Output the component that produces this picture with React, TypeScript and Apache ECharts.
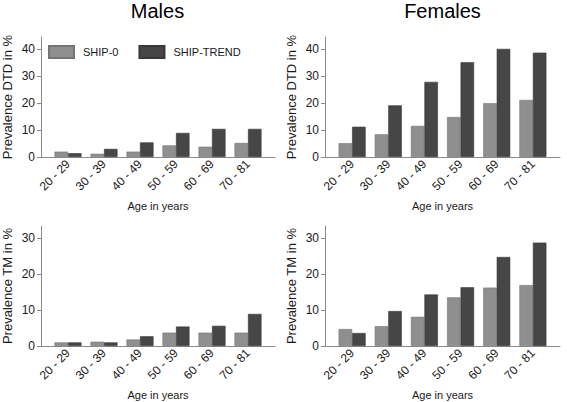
import React, { useEffect, useRef } from "react";
import * as echarts from "echarts";

const ageGroups = ["20 - 29", "30 - 39", "40 - 49", "50 - 59", "60 - 69", "70 - 81"];
const seriesNames = ["SHIP-0", "SHIP-TREND"];

const malesDtdShip0 = [2.0, 1.2, 2.0, 4.3, 3.8, 5.2];
const malesDtdTrend = [1.4, 3.0, 5.4, 8.9, 10.4, 10.4];
const femalesDtdShip0 = [5.1, 8.4, 11.5, 14.8, 19.9, 21.1];
const femalesDtdTrend = [11.2, 19.1, 27.8, 35.1, 40.0, 38.6];
const malesTmShip0 = [1.0, 1.2, 1.8, 3.7, 3.7, 3.7];
const malesTmTrend = [1.0, 1.0, 2.7, 5.4, 5.6, 8.9];
const femalesTmShip0 = [4.7, 5.5, 8.1, 13.5, 16.2, 16.9];
const femalesTmTrend = [3.6, 9.7, 14.3, 16.3, 24.7, 28.7];

const dtdTicks = [0, 10, 20, 30, 40];
const tmTicks = [0, 10, 20, 30];

const FONT = "'Liberation Sans', Arial, Helvetica, sans-serif";
const LIGHT = "#8f8f8f";
const DARK = "#464646";
const AXIS = "#8a8a8a";
const TEXT = "#1a1a1a";

export default function App() {
  const ref = useRef<HTMLDivElement>(null);
  useEffect(() => {
    if (!ref.current) return;
    const chart = echarts.init(ref.current, null, { renderer: "svg" });

    const panels = [
      { left: 40, top: 37, max: 44.4, ticks: dtdTicks, yName: "Prevalence DTD in %", s0: malesDtdShip0, s1: malesDtdTrend },
      { left: 325, top: 37, max: 44.4, ticks: dtdTicks, yName: "Prevalence DTD in %", s0: femalesDtdShip0, s1: femalesDtdTrend },
      { left: 40, top: 226, max: 33.3, ticks: tmTicks, yName: "Prevalence TM in %", s0: malesTmShip0, s1: malesTmTrend },
      { left: 325, top: 226, max: 33.3, ticks: tmTicks, yName: "Prevalence TM in %", s0: femalesTmShip0, s1: femalesTmTrend },
    ];

    const grid = panels.map((p) => ({ left: p.left, top: p.top, width: 235, height: 120 }));
    const xAxis = panels.map((p, i) => ({
      type: "value",
      gridIndex: i,
      min: -0.75,
      max: 5.75,
      name: "Age in years",
      nameLocation: "middle",
      nameGap: 43,
      nameTextStyle: { fontFamily: FONT, fontSize: 11, color: TEXT },
      axisLine: { show: true, onZero: false, lineStyle: { color: AXIS, width: 1 } },
      axisTick: { show: false },
      splitLine: { show: false },
      axisLabel: {
        customValues: [0, 1, 2, 3, 4, 5],
        formatter: (v: number) => ageGroups[Math.round(v)] ?? "",
        rotate: 45,
        margin: 5,
        fontFamily: FONT,
        fontSize: 12,
        color: TEXT,
      },
    }));
    const yAxis = panels.map((p, i) => ({
      type: "value",
      gridIndex: i,
      min: 0,
      max: p.max,
      name: p.yName,
      nameLocation: "middle",
      nameGap: 27,
      nameTextStyle: { fontFamily: FONT, fontSize: 13, color: TEXT },
      axisLine: { show: true, onZero: false, lineStyle: { color: AXIS, width: 1 } },
      axisTick: { show: true, length: 4, customValues: p.ticks, lineStyle: { color: AXIS } },
      splitLine: { show: false },
      axisLabel: {
        customValues: p.ticks,
        margin: 6,
        fontFamily: FONT,
        fontSize: 12,
        color: TEXT,
      },
    }));

    const series: any[] = [];
    panels.forEach((p, i) => {
      series.push({
        type: "bar",
        name: seriesNames[0],
        xAxisIndex: i,
        yAxisIndex: i,
        barWidth: 13.5,
        barGap: "0%",
        itemStyle: { color: LIGHT, borderColor: "#747474", borderWidth: 0.6 },
        data: p.s0.map((v, k) => [k, v]),
      });
      series.push({
        type: "bar",
        name: seriesNames[1],
        xAxisIndex: i,
        yAxisIndex: i,
        barWidth: 13.5,
        barGap: "0%",
        itemStyle: { color: DARK, borderColor: "#383838", borderWidth: 0.6 },
        data: p.s1.map((v, k) => [k, v]),
      });
    });

    chart.setOption({
      animation: false,
      backgroundColor: "#ffffff",
      grid,
      xAxis,
      yAxis,
      series,
      legend: {
        data: seriesNames.map((n) => ({ name: n, icon: "rect" })),
        left: 48,
        top: 45,
        padding: 0,
        itemWidth: 25,
        itemHeight: 12,
        itemGap: 20,
        textStyle: { fontFamily: FONT, fontSize: 11, color: TEXT, padding: [0, 0, 0, 4] },
      },
      graphic: [
        { type: "text", x: 157.5, y: 11, style: { text: "Males", align: "center", verticalAlign: "middle", fontFamily: FONT, fontSize: 20, fill: "#000" } },
        { type: "text", x: 442.5, y: 11, style: { text: "Females", align: "center", verticalAlign: "middle", fontFamily: FONT, fontSize: 20, fill: "#000" } },
      ],
    });
    return () => chart.dispose();
  }, []);
  return <div ref={ref} style={{ position: "fixed", left: 0, top: 0, width: 567, height: 402 }} />;
}
